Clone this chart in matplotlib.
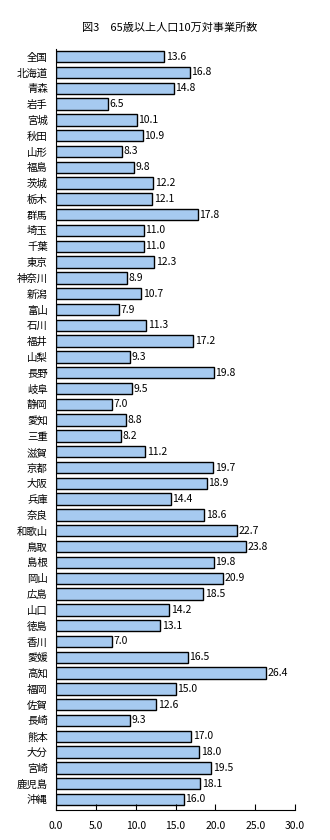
import matplotlib
matplotlib.use("Agg")
import matplotlib.pyplot as plt
import numpy as np

plt.rcParams['font.family'] = ['Noto Sans CJK JP', 'DejaVu Sans']

# Prefectures (top to bottom) and values
prefectures = [
    "全国", "北海道", "青森", "岩手", "宮城", "秋田", "山形", "福島",
    "茨城", "栃木", "群馬", "埼玉", "千葉", "東京", "神奈川", "新潟",
    "富山", "石川", "福井", "山梨", "長野", "岐阜", "静岡", "愛知",
    "三重", "滋賀", "京都", "大阪", "兵庫", "奈良", "和歌山", "鳥取",
    "島根", "岡山", "広島", "山口", "徳島", "香川", "愛媛", "高知",
    "福岡", "佐賀", "長崎", "熊本", "大分", "宮崎", "鹿児島", "沖縄",
]
values = [
    13.6, 16.8, 14.8, 6.5, 10.1, 10.9, 8.3, 9.8,
    12.2, 12.1, 17.8, 11.0, 11.0, 12.3, 8.9, 10.7,
    7.9, 11.3, 17.2, 9.3, 19.8, 9.5, 7.0, 8.8,
    8.2, 11.2, 19.7, 18.9, 14.4, 18.6, 22.7, 23.8,
    19.8, 20.9, 18.5, 14.2, 13.1, 7.0, 16.5, 26.4,
    15.0, 12.6, 9.3, 17.0, 18.0, 19.5, 18.1, 16.0,
]
x_ticks = [0, 5, 10, 15, 20, 25, 30]

fig = plt.figure(figsize=(3.3, 8.4), dpi=100)
ax = fig.add_axes([0.17, 0.036, 0.724, 0.906])

y = np.arange(len(prefectures))
bars = ax.barh(y, values, height=0.72, color='#a6caf0', edgecolor='black', linewidth=1.0)

# value labels
for bar, v in zip(bars, values):
    ax.text(bar.get_width() + 0.2, bar.get_y() + bar.get_height() / 2,
            f'{v:.1f}', ha='left', va='center', fontsize=7.5)

ax.set_yticks(y)
ax.set_yticklabels(prefectures, fontsize=7.5)
ax.set_ylim(47.65, -0.5)
ax.set_xlim(0, 30)
ax.set_xticks(x_ticks)
ax.set_xticklabels([f'{t:.1f}' for t in x_ticks], fontsize=7.5)

ax.spines['top'].set_visible(False)
ax.spines['right'].set_visible(False)
ax.tick_params(axis='y', length=0, pad=6)
ax.tick_params(axis='x', direction='in', length=4, pad=8)

fig.text(0.515, 0.967, '図3　65歳以上人口10万対事業所数', ha='center', va='center', fontsize=8)

plt.savefig('out.png', dpi=100, facecolor='white')
plt.close()
